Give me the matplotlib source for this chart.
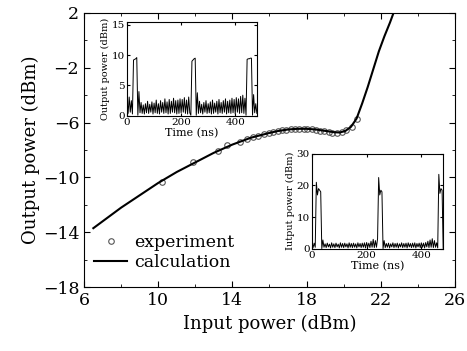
import matplotlib
matplotlib.use("Agg")
import matplotlib.pyplot as plt
import numpy as np
from matplotlib.ticker import MultipleLocator

plt.rcParams['font.family'] = ['DejaVu Serif']
plt.rcParams['axes.unicode_minus'] = True

# main panel: calculation curve and experiment points
calc_x = [6.5, 7, 8, 9, 10, 11, 12, 13, 14, 15, 16, 16.5, 17, 17.5, 18, 18.5,
          19, 19.5, 19.8, 20.1, 20.4, 20.7, 21.0, 21.3, 21.6, 21.9, 22.2, 22.5, 22.8]
calc_y = [-13.7, -13.2, -12.2, -11.3, -10.4, -9.6, -8.9, -8.2, -7.6, -7.1, -6.75,
          -6.6, -6.5, -6.45, -6.45, -6.5, -6.6, -6.7, -6.72, -6.6, -6.3, -5.7,
          -4.6, -3.4, -2.1, -0.8, 0.3, 1.3, 2.4]

exp_x = [10.2, 11.9, 13.2, 13.7, 14.4, 14.8, 15.1, 15.4, 15.7, 16.0, 16.2, 16.45,
         16.7, 16.9, 17.15, 17.4, 17.6, 17.85, 18.05, 18.3, 18.5, 18.75, 18.95,
         19.2, 19.4, 19.65, 19.9, 20.15, 20.45, 20.7]
exp_y = [-10.3, -8.9, -8.1, -7.6, -7.4, -7.2, -7.05, -6.95, -6.85, -6.75, -6.7,
         -6.62, -6.57, -6.52, -6.5, -6.47, -6.45, -6.45, -6.46, -6.5, -6.52, -6.58,
         -6.64, -6.68, -6.72, -6.74, -6.7, -6.55, -6.3, -5.7]

# inset 1: output power trace, sampled every 4 ns
out_trace = ([2.8, 0.4, 3.1, 0.6, 2.5, 0.3]
             + [9.2, 9.3, 9.4, 9.6] + [0.1]
             + [4.0, 0.5, 2.2, 0.4, 1.8, 0.3, 2.0, 0.5, 2.4, 0.4, 1.9, 0.6, 2.3, 0.3, 2.1, 0.5,
                2.6, 0.4, 2.0, 0.3, 2.5, 0.6, 2.2, 0.4, 2.8, 0.5, 2.3, 0.3, 2.7, 0.4, 2.4, 0.6,
                2.9, 0.5, 2.5, 0.3, 2.6, 0.4, 2.8, 0.5, 2.7, 0.6, 3.0, 0.4, 2.6, 0.3, 3.1, 0.5]
             + [0.1] + [9.0, 9.2, 9.4, 9.5] + [0.1]
             + [3.8, 0.4, 2.4, 0.5, 1.9, 0.3, 2.2, 0.6, 2.5, 0.4, 2.0, 0.5, 2.3, 0.3, 2.6, 0.4,
                2.1, 0.6, 2.4, 0.3, 2.7, 0.5, 2.2, 0.4, 2.5, 0.6, 2.8, 0.3, 2.4, 0.5, 2.6, 0.4,
                2.9, 0.5, 2.7, 0.3, 3.0, 0.6, 2.8, 0.4, 3.2, 0.5, 3.4, 0.4, 2.9]
             + [0.1] + [9.3, 9.4, 9.4, 9.5, 9.5] + [0.1]
             + [3.5, 0.5, 2.0, 0.4])
out_t = np.arange(len(out_trace)) * 4

# inset 2: input power trace, sampled every 4 ns
in_trace = ([2.2, 0.4, 1.8, 0.5]
            + [21.0, 17.0, 19.0, 18.5, 18.0] + [0.1]
            + [2.8, 0.5, 1.6, 0.4, 1.8, 0.6, 1.5, 0.3, 1.9, 0.5, 1.6, 0.4, 1.8, 0.6, 1.5, 0.3,
               1.9, 0.5, 1.7, 0.4, 1.8, 0.6, 1.6, 0.3, 1.9, 0.5, 1.7, 0.4, 1.8, 0.5, 1.6, 0.3,
               1.9, 0.6, 1.7, 0.4, 1.8, 0.5, 1.9, 0.3, 2.0, 0.5, 1.8, 0.4, 2.4, 0.5, 3.0, 0.4,
               2.6, 0.5, 3.2]
            + [22.5, 17.0, 18.5, 18.0] + [0.1]
            + [2.6, 0.4, 1.7, 0.5, 1.8, 0.3, 1.6, 0.6, 1.9, 0.4, 1.7, 0.5, 1.8, 0.3, 1.6, 0.6,
               1.9, 0.4, 1.7, 0.5, 1.8, 0.3, 1.9, 0.6, 1.7, 0.4, 1.8, 0.5, 1.9, 0.3, 1.7, 0.6,
               1.8, 0.4, 1.9, 0.5, 1.8, 0.3, 2.0, 0.6, 2.4, 0.4, 2.8, 0.5, 3.2, 0.4, 2.6, 0.5,
               1.9, 0.3]
            + [23.5, 17.5, 19.0, 18.5] + [0.1]
            + [2.8, 0.5, 2.0, 0.4, 1.5])
in_t = np.arange(len(in_trace)) * 4

fig = plt.figure(figsize=(4.67, 3.51), dpi=100)
ax = fig.add_axes([0.180, 0.182, 0.794, 0.781])

ax.plot(exp_x, exp_y, 'o', mfc='none', mec='#555555', ms=4, mew=0.8, label='experiment')
ax.plot(calc_x, calc_y, '-', color='black', lw=1.5, label='calculation')
ax.set_xlim(6, 26)
ax.set_ylim(-18, 2)
ax.set_xticks([6, 10, 14, 18, 22, 26])
ax.set_yticks([2, -2, -6, -10, -14, -18])
ax.xaxis.set_minor_locator(MultipleLocator(2))
ax.yaxis.set_minor_locator(MultipleLocator(2))
ax.tick_params(which='both', direction='in', top=True, right=True, labelsize=12.5)
ax.tick_params(which='major', length=4)
ax.tick_params(which='minor', length=2)
ax.set_xlabel('Input power (dBm)', fontsize=13)
ax.set_ylabel('Output power (dBm)', fontsize=13, labelpad=2)
ax.legend(loc='lower left', bbox_to_anchor=(0.0, 0.02), frameon=False, fontsize=12.5,
          handlelength=1.9, handletextpad=0.4, borderaxespad=0.2, labelspacing=0.2)

ins1 = fig.add_axes([0.272, 0.670, 0.278, 0.268])
ins1.plot(out_t, out_trace, color='black', lw=0.7)
ins1.set_xlim(0, 480)
ins1.set_ylim(0, 15.5)
ins1.set_xticks([0, 200, 400])
ins1.set_yticks([0, 5, 10, 15])
ins1.tick_params(direction='in', top=True, right=True, labelsize=7.5, length=2, pad=1.5)
ins1.set_xlabel('Time (ns)', fontsize=8, labelpad=1)
ins1.set_ylabel('Output power (dBm)', fontsize=7, labelpad=1)

ins2 = fig.add_axes([0.668, 0.291, 0.281, 0.271])
ins2.plot(in_t, in_trace, color='black', lw=0.7)
ins2.set_xlim(0, 480)
ins2.set_ylim(0, 30)
ins2.set_xticks([0, 200, 400])
ins2.set_yticks([0, 10, 20, 30])
ins2.tick_params(direction='in', top=True, right=True, labelsize=7.5, length=2, pad=1.5)
ins2.set_xlabel('Time (ns)', fontsize=8, labelpad=1)
ins2.set_ylabel('Iutput power (dBm)', fontsize=7, labelpad=1)

fig.savefig('out.png', dpi=100)
